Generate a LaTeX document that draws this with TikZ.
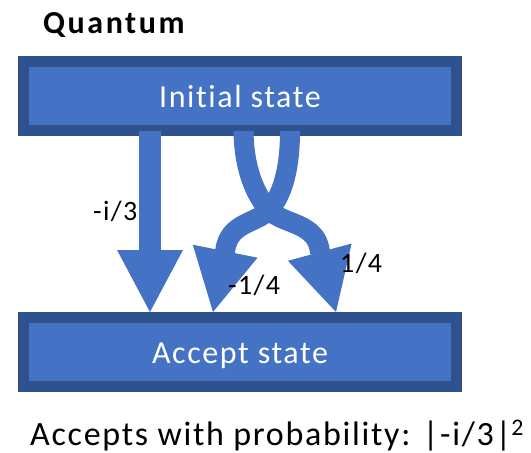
\documentclass[tikz,border=0pt]{standalone}
\usepackage{fontspec}
\setmainfont{Carlito}[LetterSpace=5,Ligatures=NoCommon]
\usetikzlibrary{arrows.meta}
\definecolor{boxfill}{HTML}{4472C4}
\definecolor{boxline}{HTML}{2F528F}

\begin{document}
\begin{tikzpicture}[x=1pt,y=-1pt,
		statebox/.style={draw=boxline,fill=boxfill,line width=11pt,text=white,
			minimum width=433pt,minimum height=69pt,text height=28pt,text depth=6pt,
			font=\fontsize{32}{38}\selectfont},
		flow/.style={draw=boxfill,line width=#1,
			-{Triangle[width=66pt,length=62pt,line width=0pt]}},
		flow/.default=20pt,
		amp/.style={anchor=base west,inner sep=0pt,font=\fontsize{28}{34}\selectfont}]
		\useasboundingbox (0,0) rectangle (531,453);
		\node[anchor=base west,inner sep=0pt,
			font=\fontsize{32}{38}\selectfont\bfseries\addfontfeatures{LetterSpace=8}]
			(title) at (43,33) {Quantum};
		% states
		\node[statebox] (init) at (240,96) {Initial state};
		\node[statebox] (accept) at (240,352) {Accept state};
		% ends of the arrows
		\coordinate (s1) at (init.south -| 150,0);
		\coordinate (s2) at (init.south -| 243.5,0);
		\coordinate (s3) at (init.south -| 290,0);
		\coordinate (e1) at (accept.north -| 150,0);
		\coordinate (e2) at (accept.north -| 336,0);
		\coordinate (e3) at (accept.north -| 213,0);
		\coordinate (cross) at (269,210);
		% amplitude -i/3
		\draw[flow=22pt] ([yshift=5pt]s1) -- (e1);
		% the two crossing paths
		\draw[flow] ([yshift=5pt]s2) .. controls (244,170) and (256,196) .. (cross)
			.. controls (283,225) and (318,222) .. (320,253) -- (e2);
		\draw[flow] ([yshift=5pt]s3) .. controls (290,170) and (282,196) .. (cross)
			.. controls (256,224) and (228,222) .. (225,252) -- (e3);
		% amplitudes
		\node[amp] (a1) at (93,220) {-i/3};
		\node[amp] (a2) at (228,294) {-1/4};
		\node[amp] (a3) at (340,272) {1/4};
		\node[anchor=base west,inner sep=0pt,font=\fontsize{34}{40}\selectfont]
			(caption) at (30,445) {Accepts with probability: |-i/3|\textsuperscript{2}};
	\end{tikzpicture}
\end{document}
